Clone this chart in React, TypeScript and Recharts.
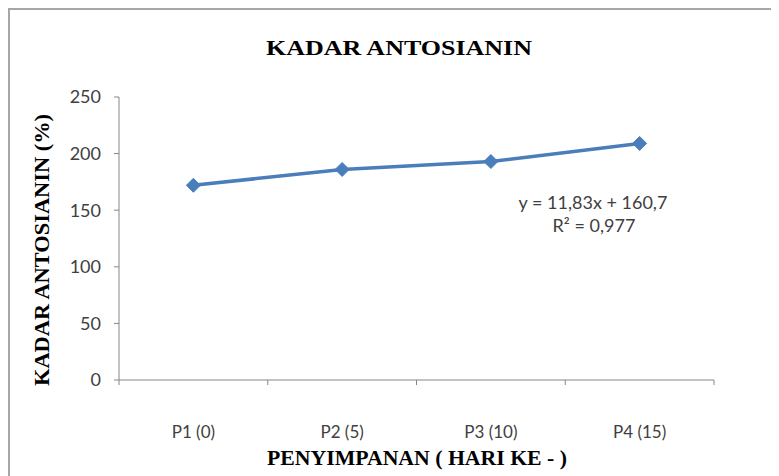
import React from "react";
import { LineChart, Line, XAxis, YAxis } from "recharts";

const categories = ["P1 (0)", "P2 (5)", "P3 (10)", "P4 (15)"];
const antosianin = [172, 186, 193, 209];
const yTicks = [0, 50, 100, 150, 200, 250];
const boundaryTicks = [0, 1, 2, 3, 4];
const trendText = ["y = 11,83x + 160,7", "R² = 0,977"];

// each category sits in the middle of its slot between two boundary ticks
const data = categories.map((name, i) => ({ name, pos: i + 0.5, value: antosianin[i] }));
const labelTicks = data.map((d) => d.pos);

const BLUE = "#4A7EBB";
const AXIS = "#868686";
const TEXT = "#404040";
const SERIF = "'Liberation Serif', 'Times New Roman', serif";
const SANS = "Lato, 'Open Sans', sans-serif";

function Diamond(props: any) {
  const { cx, cy } = props;
  if (cx == null || cy == null) return null;
  const r = 7;
  return (
    <path
      d={`M${cx},${cy - r} L${cx + r},${cy} L${cx},${cy + r} L${cx - r},${cy} Z`}
      fill={BLUE}
      stroke={BLUE}
      strokeWidth={1}
    />
  );
}

const NoLabel = () => <g />;

export default function App() {
  return (
    <div
      style={{
        position: "relative",
        width: 771,
        height: 468,
        boxSizing: "border-box",
        borderTop: "2px solid #a6a6a6",
        borderLeft: "2px solid #a6a6a6",
        background: "#fff",
      }}
    >
      <LineChart
        width={769}
        height={466}
        data={data}
        margin={{ top: 87, right: 65, left: 49, bottom: 55 }}
      >
        <XAxis
          xAxisId="grid"
          type="number"
          dataKey="pos"
          domain={[0, 4]}
          ticks={boundaryTicks}
          tick={NoLabel}
          tickLine={{ stroke: AXIS }}
          tickSize={5}
          axisLine={{ stroke: AXIS }}
          height={1}
        />
        <XAxis
          xAxisId="labels"
          type="number"
          dataKey="pos"
          domain={[0, 4]}
          ticks={labelTicks}
          tickFormatter={(v: number) => categories[Math.floor(v)]}
          axisLine={false}
          tickLine={false}
          tickSize={0}
          tickMargin={45}
          height={40}
          tick={{ fill: TEXT, fontSize: 17, fontFamily: SANS }}
        />
        <YAxis
          domain={[0, 250]}
          ticks={yTicks}
          width={60}
          tickSize={5}
          tickMargin={13}
          axisLine={{ stroke: AXIS }}
          tickLine={{ stroke: AXIS }}
          tick={{ fill: TEXT, fontSize: 18, fontFamily: SANS }}
        />
        <Line
          xAxisId="labels"
          dataKey="value"
          stroke="none"
          dot={false}
          activeDot={false}
          isAnimationActive={false}
        />
        <Line
          xAxisId="grid"
          dataKey="value"
          stroke={BLUE}
          strokeWidth={3.5}
          dot={<Diamond />}
          activeDot={false}
          isAnimationActive={false}
        />
      </LineChart>
      <svg
        width={769}
        height={466}
        style={{ position: "absolute", left: 0, top: 0, pointerEvents: "none" }}
      >
        <text
          x={389}
          y={45}
          textAnchor="middle"
          fontFamily={SERIF}
          fontWeight="bold"
          fontSize={22}
          textLength={266}
          lengthAdjust="spacingAndGlyphs"
          fill="#000"
        >
          KADAR ANTOSIANIN
        </text>
        <text
          transform="translate(39, 240) rotate(-90)"
          textAnchor="middle"
          fontFamily={SERIF}
          fontWeight="bold"
          fontSize={20}
          textLength={272}
          lengthAdjust="spacingAndGlyphs"
          fill="#000"
        >
          KADAR ANTOSIANIN (%)
        </text>
        <text
          x={407}
          y={455}
          textAnchor="middle"
          fontFamily={SERIF}
          fontWeight="bold"
          fontSize={21}
          textLength={300}
          lengthAdjust="spacingAndGlyphs"
          fill="#000"
        >
          PENYIMPANAN ( HARI KE - )
        </text>
        <text x={583} y={199} textAnchor="middle" fontFamily={SANS} fontSize={18} fill={TEXT}>
          {trendText[0]}
        </text>
        <text x={584} y={222} textAnchor="middle" fontFamily={SANS} fontSize={18} fill={TEXT}>
          {trendText[1]}
        </text>
      </svg>
    </div>
  );
}
